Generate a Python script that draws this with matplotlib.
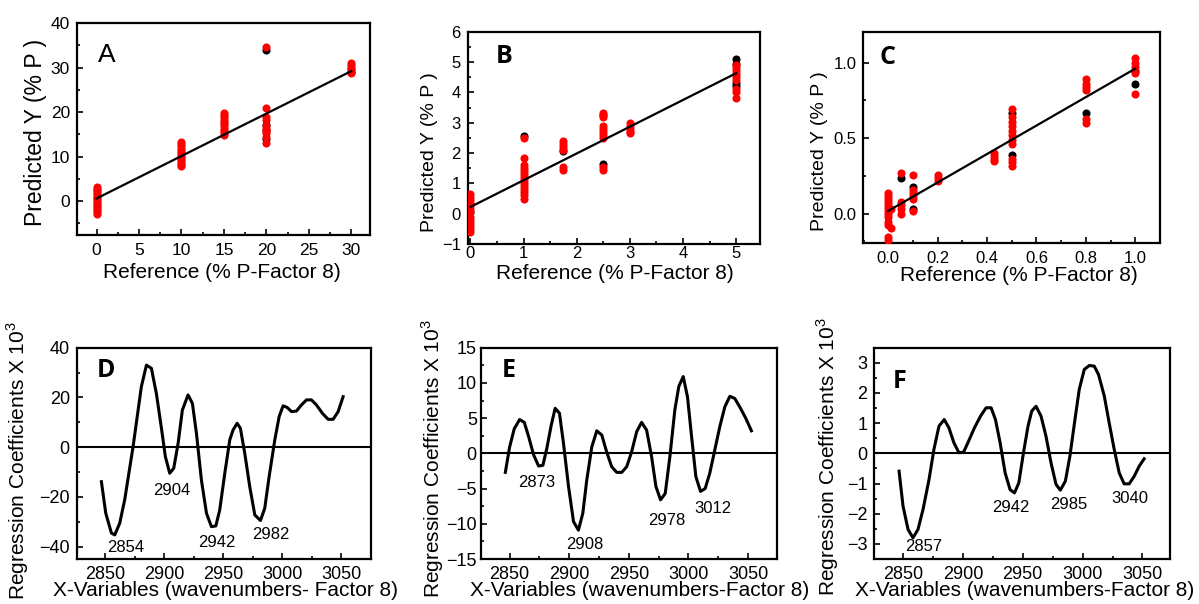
import matplotlib
matplotlib.use('Agg')
import matplotlib.pyplot as plt
from matplotlib.ticker import MultipleLocator

plt.rcParams['font.family'] = ['Liberation Sans', 'DejaVu Sans']
plt.rcParams['mathtext.fontset'] = 'custom'
plt.rcParams['mathtext.rm'] = 'Liberation Sans'

# ---- panel A ----
a_red_x = [0]*16 + [10]*13 + [15]*11 + [20]*10 + [30]*6
a_red_y = [3.2, 2.8, 2.4, 2.0, 1.6, 1.2, 0.8, 0.4, 0.0, -0.4, -0.8, -1.2, -1.6, -2.0, -2.4, -2.8,
           13.2, 12.8, 12.3, 11.8, 11.3, 10.9, 10.4, 10.0, 9.5, 9.0, 8.6, 8.1, 7.8,
           19.8, 19.3, 18.8, 18.3, 17.8, 17.3, 16.8, 16.3, 15.8, 15.3, 14.8,
           34.7, 20.9, 18.9, 18.2, 16.8, 16.2, 15.7, 15.2, 14.5, 13.0,
           31.0, 30.5, 30.0, 29.6, 29.2, 28.8]
a_blk_x = [20, 20, 20, 20, 30]
a_blk_y = [33.9, 17.0, 16.0, 14.0, 29.0]
a_fit_x = [0, 30]
a_fit_y = [0.6, 29.2]

# ---- panel B ----
b_red_x = [0]*13 + [1]*14 + [1.75]*6 + [2.5]*9 + [3]*5 + [5]*9
b_red_y = [0.65, 0.55, 0.45, 0.35, 0.25, 0.15, 0.05, -0.1, -0.2, -0.3, -0.4, -0.5, -0.6,
           2.5, 1.85, 1.6, 1.5, 1.4, 1.3, 1.2, 1.1, 1.0, 0.9, 0.8, 0.7, 0.6, 0.5,
           2.4, 2.3, 2.2, 2.1, 1.55, 1.45,
           3.33, 3.2, 2.9, 2.8, 2.7, 2.6, 2.5, 1.55, 1.45,
           2.98, 2.9, 2.8, 2.7, 2.65,
           4.9, 4.8, 4.7, 4.6, 4.5, 4.4, 4.1, 4.0, 3.8]
b_blk_x = [0, 1, 1.75, 2.5, 2.5, 5, 5, 5, 5]
b_blk_y = [0.05, 2.57, 2.05, 3.24, 1.65, 5.1, 4.95, 4.3, 4.2]
b_fit_x = [0, 5]
b_fit_y = [0.22, 4.63]

# ---- panel C ----
c_red_x = [0]*13 + [0.01]*2 + [0.05]*5 + [0.1]*6 + [0.2]*3 + [0.43]*4 + [0.5]*11 + [0.8]*6 + [1.0]*5
c_red_y = [0.14, 0.12, 0.10, 0.08, 0.06, 0.04, 0.02, 0.0, -0.02, -0.05, -0.07, -0.15, -0.17,
           -0.09, 0.03,
           0.27, 0.08, 0.06, 0.03, 0.0,
           0.26, 0.16, 0.14, 0.12, 0.10, 0.02,
           0.26, 0.24, 0.22,
           0.40, 0.38, 0.36, 0.35,
           0.69, 0.64, 0.61, 0.58, 0.55, 0.52, 0.49, 0.46, 0.36, 0.34, 0.32,
           0.89, 0.86, 0.84, 0.82, 0.63, 0.60,
           1.03, 1.0, 0.97, 0.93, 0.79]
c_blk_x = [0.05, 0.1, 0.1, 0.5, 0.5, 0.8, 1.0, 1.0]
c_blk_y = [0.24, 0.18, 0.03, 0.67, 0.39, 0.67, 0.945, 0.86]
c_fit_x = [0, 1.0]
c_fit_y = [0.02, 0.96]

# ---- panel D ----
d_x = [2846.9, 2850.6, 2855.4, 2858.2, 2862.4, 2866.6, 2873.7, 2880.7, 2885.0, 2889.2,
       2893.4, 2897.7, 2901.0, 2904.7, 2908.1, 2911.8, 2915.4, 2920.2, 2923.9, 2927.3,
       2931.5, 2935.8, 2940.0, 2943.7, 2947.0, 2951.3, 2955.5, 2958.3, 2961.7, 2964.5,
       2968.2, 2972.4, 2976.7, 2981.5, 2985.1, 2988.8, 2993.6, 2997.3, 3000.6, 3004.0,
       3007.7, 3011.9, 3016.2, 3020.4, 3024.6, 3028.8, 3033.9, 3038.7, 3043.0, 3047.2, 3051.4]
d_y = [-13.9, -26.6, -34.6, -35.3, -30.6, -21.2, 0.2, 24.3, 33.0, 31.7,
       21.6, 7.6, -3.8, -10.5, -8.5, 1.5, 14.9, 21.0, 17.6, 5.6,
       -13.2, -26.6, -32.0, -31.7, -25.3, -10.5, 2.9, 6.9, 9.6, 7.6,
       -2.5, -15.9, -27.3, -29.5, -24.6, -11.9, 2.9, 12.3, 16.6, 16.0,
       14.3, 14.5, 17.0, 19.0, 19.0, 17.0, 13.6, 11.2, 11.2, 14.3, 20.3]
d_peaks = ['2854', '2904', '2942', '2982']
d_peak_x = [2867.8, 2906.1, 2944.2, 2990.0]
d_peak_y = [-40.5, -17.6, -38.3, -35.3]

# ---- panel E ----
e_x = [2846.4, 2850.0, 2853.9, 2858.4, 2862.3, 2865.9, 2870.1, 2874.3, 2877.9, 2881.2,
       2884.9, 2888.2, 2891.8, 2895.2, 2899.4, 2903.6, 2907.7, 2911.4, 2914.7, 2918.9,
       2923.1, 2927.3, 2931.4, 2935.6, 2939.8, 2944.0, 2948.2, 2952.3, 2956.6, 2960.7,
       2964.9, 2969.1, 2972.7, 2976.6, 2980.5, 2984.4, 2988.6, 2991.9, 2995.6, 2999.2,
       3002.6, 3006.2, 3010.1, 3014.0, 3017.9, 3022.1, 3026.3, 3030.5, 3034.7, 3038.8,
       3043.0, 3048.0, 3052.8]
e_y = [-2.7, 0.9, 3.5, 4.8, 4.4, 2.4, -0.2, -1.8, -1.7, 0.7,
       4.0, 6.4, 5.7, 1.4, -4.7, -9.7, -10.9, -8.5, -3.8, 0.9,
       3.2, 2.6, 0.2, -1.9, -2.7, -2.7, -1.9, 0.2, 3.1, 4.4,
       3.3, -0.5, -4.7, -6.6, -5.7, -0.5, 6.2, 9.5, 10.9, 8.0,
       2.4, -3.3, -5.4, -5.0, -2.8, 0.5, 3.8, 6.6, 8.1, 7.8,
       6.6, 5.0, 3.2]
e_peaks = ['2873', '2908', '2978', '3012']
e_peak_x = [2872.3, 2912.8, 2982.2, 3020.7]
e_peak_y = [-4.1, -13.0, -9.5, -7.8]

# ---- panel F ----
f_x = [2846.7, 2850.0, 2854.2, 2858.3, 2862.5, 2866.7, 2871.7, 2875.8, 2880.0, 2884.4,
       2888.3, 2892.5, 2896.7, 2900.6, 2904.7, 2909.7, 2914.7, 2919.4, 2923.6, 2927.2,
       2931.1, 2935.3, 2939.4, 2943.1, 2946.7, 2950.6, 2954.4, 2957.5, 2961.1, 2965.3,
       2969.4, 2973.6, 2977.8, 2981.4, 2985.6, 2989.4, 2993.6, 2997.2, 3001.4, 3005.6,
       3009.7, 3013.3, 3018.1, 3022.2, 3026.4, 3030.6, 3034.7, 3038.9, 3043.1, 3047.2, 3051.4]
f_y = [-0.59, -1.75, -2.52, -2.80, -2.52, -1.86, -0.87, 0.13, 0.90, 1.12,
       0.85, 0.35, 0.02, 0.04, 0.40, 0.85, 1.23, 1.51, 1.51, 1.12,
       0.35, -0.65, -1.20, -1.31, -0.98, 0.02, 0.90, 1.40, 1.56, 1.23,
       0.57, -0.31, -1.03, -1.22, -0.92, -0.09, 1.12, 2.12, 2.78, 2.91,
       2.89, 2.61, 1.90, 1.01, 0.13, -0.65, -1.01, -1.01, -0.76, -0.43, -0.18]
f_peaks = ['2857', '2942', '2985', '3040']
f_peak_x = [2867.2, 2940.3, 2988.3, 3039.4]
f_peak_y = [-3.1, -1.8, -1.7, -1.5]

W, H = 1199, 604
fig = plt.figure(figsize=(W/100, H/100), dpi=100)


def make_ax(l, r, t, b, fs=13, xpad=5, ypad=5):
    ax = fig.add_axes([l/W, 1 - b/H, (r-l)/W, (b-t)/H])
    for s in ax.spines.values():
        s.set_linewidth(1.6)
    ax.tick_params(which='both', direction='in', top=False, right=False,
                   labelsize=fs, width=1.2)
    ax.tick_params(axis='x', which='both', pad=xpad)
    ax.tick_params(axis='y', which='both', pad=ypad)
    ax.tick_params(which='major', length=4)
    ax.tick_params(which='minor', length=2.5)
    return ax


def scatter_panel(ax, rx, ry, bx, by, fx, fy):
    ax.scatter(bx, by, s=34, c='black', zorder=2, linewidths=0)
    ax.scatter(rx, ry, s=34, c='red', zorder=3, linewidths=0)
    ax.plot(fx, fy, color='black', lw=1.6, zorder=4)


def set_labels(ax, xl, yl, xpos, ypos, yfs=15, xfs=15):
    ax.set_xlabel(xl, fontsize=xfs, va='center')
    ax.set_ylabel(yl, fontsize=yfs, va='center')
    ax.xaxis.set_label_coords(*xpos)
    ax.yaxis.set_label_coords(*ypos)


# A
ax = make_ax(77, 370, 23, 235, fs=12.5, xpad=6)
scatter_panel(ax, a_red_x, a_red_y, a_blk_x, a_blk_y, a_fit_x, a_fit_y)
ax.set_xlim(-2.3, 32.2)
ax.set_ylim(-7.6, 40)
ax.xaxis.set_major_locator(MultipleLocator(5))
ax.xaxis.set_minor_locator(MultipleLocator(2.5))
ax.yaxis.set_major_locator(MultipleLocator(10))
ax.yaxis.set_minor_locator(MultipleLocator(5))
ax.text(0.07, 0.85, 'A', transform=ax.transAxes, fontsize=19, va='center')
set_labels(ax, 'Reference (% P-Factor 8)', 'Predicted Y (% P )',
           (0.496, -0.179), (-0.143, 0.4835), yfs=16.5)

# B
ax = make_ax(467.7, 760, 31.7, 244, fs=12, xpad=1.5)
scatter_panel(ax, b_red_x, b_red_y, b_blk_x, b_blk_y, b_fit_x, b_fit_y)
ax.set_xlim(-0.05, 5.45)
ax.set_ylim(-1, 6)
ax.xaxis.set_major_locator(MultipleLocator(1))
ax.xaxis.set_minor_locator(MultipleLocator(0.5))
ax.yaxis.set_major_locator(MultipleLocator(1))
ax.yaxis.set_minor_locator(MultipleLocator(0.5))
ax.text(0.097, 0.885, 'B', transform=ax.transAxes, fontsize=18, va='center',
        fontweight='bold', family=['Open Sans', 'DejaVu Sans'])
set_labels(ax, 'Reference (% P-Factor 8)', 'Predicted Y (% P )',
           (0.504, -0.14), (-0.132, 0.433), yfs=14)

# C
ax = make_ax(863.3, 1160, 32.3, 242.7, fs=12, xpad=6)
scatter_panel(ax, c_red_x, c_red_y, c_blk_x, c_blk_y, c_fit_x, c_fit_y)
ax.set_xlim(-0.101, 1.1)
ax.set_ylim(-0.19, 1.2)
ax.xaxis.set_major_locator(MultipleLocator(0.2))
ax.xaxis.set_minor_locator(MultipleLocator(0.1))
ax.yaxis.set_major_locator(MultipleLocator(0.5))
ax.yaxis.set_minor_locator(MultipleLocator(0.25))
ax.text(0.053, 0.88, 'C', transform=ax.transAxes, fontsize=18, va='center',
        fontweight='bold', family=['Open Sans', 'DejaVu Sans'])
set_labels(ax, 'Reference (% P-Factor 8)', 'Predicted Y (% P )',
           (0.525, -0.158), (-0.148, 0.436), yfs=14)

ylab = 'Regression Coefficients X 10$^3$'

# D
ax = make_ax(76.7, 371, 347.7, 559)
ax.plot(d_x, d_y, color='black', lw=2.2, solid_joinstyle='round')
ax.axhline(0, color='black', lw=1.5)
for t, x, y in zip(d_peaks, d_peak_x, d_peak_y):
    ax.text(x, y, t, fontsize=12, ha='center', va='center')
ax.set_xlim(2826, 3075)
ax.set_ylim(-45, 40)
ax.xaxis.set_major_locator(MultipleLocator(50))
ax.xaxis.set_minor_locator(MultipleLocator(25))
ax.yaxis.set_major_locator(MultipleLocator(20))
ax.yaxis.set_minor_locator(MultipleLocator(10))
ax.text(0.068, 0.894, 'D', transform=ax.transAxes, fontsize=18, va='center',
        fontweight='bold', family=['Open Sans', 'DejaVu Sans'])
set_labels(ax, 'X-Variables (wavenumbers- Factor 8)', ylab,
           (0.504, -0.147), (-0.2, 0.468))

# E
ax = make_ax(481, 776.7, 347.7, 559, ypad=3)
ax.plot(e_x, e_y, color='black', lw=2.2, solid_joinstyle='round')
ax.axhline(0, color='black', lw=1.5)
for t, x, y in zip(e_peaks, e_peak_x, e_peak_y):
    ax.text(x, y, t, fontsize=12, ha='center', va='center')
ax.set_xlim(2826, 3074)
ax.set_ylim(-15, 15)
ax.xaxis.set_major_locator(MultipleLocator(50))
ax.xaxis.set_minor_locator(MultipleLocator(25))
ax.yaxis.set_major_locator(MultipleLocator(5))
ax.yaxis.set_minor_locator(MultipleLocator(2.5))
ax.text(0.07, 0.894, 'E', transform=ax.transAxes, fontsize=18, va='center',
        fontweight='bold', family=['Open Sans', 'DejaVu Sans'])
set_labels(ax, 'X-Variables (wavenumbers-Factor 8)', ylab,
           (0.538, -0.147), (-0.162, 0.473))

# F
ax = make_ax(874.3, 1170, 347.7, 559)
ax.plot(f_x, f_y, color='black', lw=2.2, solid_joinstyle='round')
ax.axhline(0, color='black', lw=1.5)
for t, x, y in zip(f_peaks, f_peak_x, f_peak_y):
    ax.text(x, y, t, fontsize=12, ha='center', va='center')
ax.set_xlim(2826, 3073)
ax.set_ylim(-3.5, 3.5)
ax.xaxis.set_major_locator(MultipleLocator(50))
ax.xaxis.set_minor_locator(MultipleLocator(25))
ax.yaxis.set_major_locator(MultipleLocator(1))
ax.yaxis.set_minor_locator(MultipleLocator(0.5))
ax.text(0.064, 0.838, 'F', transform=ax.transAxes, fontsize=18, va='center',
        fontweight='bold', family=['Open Sans', 'DejaVu Sans'])
set_labels(ax, 'X-Variables (wavenumbers-Factor 8)', ylab,
           (0.51, -0.147), (-0.158, 0.483))

fig.savefig('out.png', dpi=100)
